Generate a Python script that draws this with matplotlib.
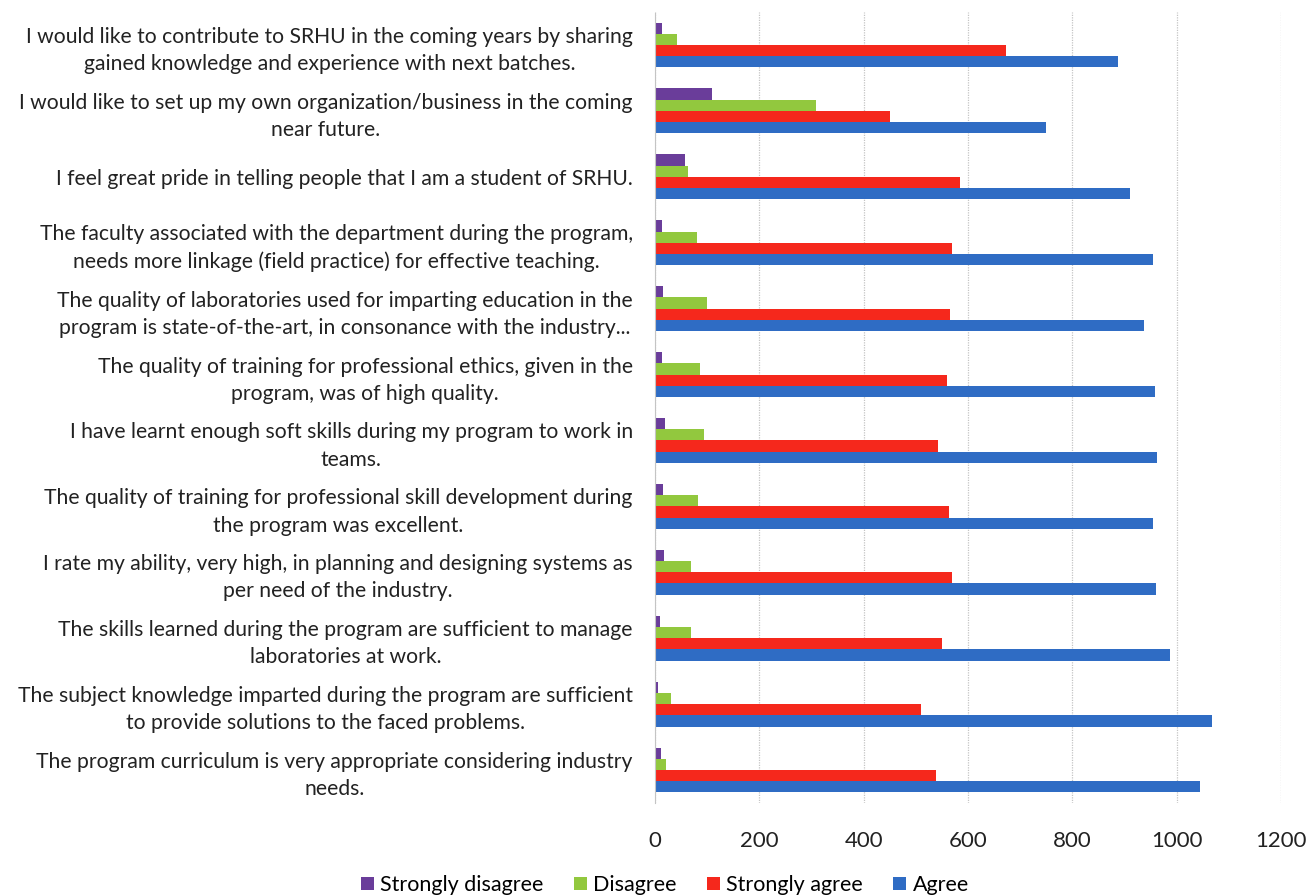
import numpy as np
import matplotlib.pyplot as plt

# statements, bottom to top (as the chart draws them)
statements = [
    "The program curriculum is very appropriate considering industry\nneeds.",
    "The subject knowledge imparted during the program are sufficient\nto provide solutions to the faced problems.",
    "The skills learned during the program are sufficient to manage\nlaboratories at work.",
    "I rate my ability, very high, in planning and designing systems as\nper need of the industry.",
    "The quality of training for professional skill development during\nthe program was excellent.",
    "I have learnt enough soft skills during my program to work in\nteams.",
    "The quality of training for professional ethics, given in the\nprogram, was of high quality.",
    "The quality of laboratories used for imparting education in the\nprogram is state-of-the-art, in consonance with the industry...",
    "The faculty associated with the department during the program,\nneeds more linkage (field practice) for effective teaching.",
    "I feel great pride in telling people that I am a student of SRHU.",
    "I would like to set up my own organization/business in the coming\nnear future.",
    "I would like to contribute to SRHU in the coming years by sharing\ngained knowledge and experience with next batches.",
]

strongly_disagree = [12, 6, 9, 17, 16, 19, 14, 16, 14, 57, 110, 14]
disagree = [22, 31, 69, 69, 82, 93, 86, 99, 80, 64, 308, 43]
strongly_agree = [538, 510, 551, 569, 564, 543, 560, 565, 569, 584, 450, 673]
agree = [1044, 1067, 987, 960, 954, 962, 958, 937, 954, 910, 750, 888]

series = [
    ("Strongly disagree", strongly_disagree, "#6a3d9a"),
    ("Disagree", disagree, "#92c83e"),
    ("Strongly agree", strongly_agree, "#f5281c"),
    ("Agree", agree, "#2f6cc4"),
]

plt.rcParams['font.family'] = ['Lato', 'DejaVu Sans']

fig = plt.figure(figsize=(13.09, 8.96), dpi=100)
ax = fig.add_axes([0.5004, 0.1038, 0.4782, 0.8828])

y = np.arange(len(statements))
h = 0.17
offsets = [1.5 * h, 0.5 * h, -0.5 * h, -1.5 * h]
for (name, vals, col), off in zip(series, offsets):
    ax.barh(y + off, vals, height=h, color=col, label=name)

ax.set_xlim(0, 1200)
ax.set_ylim(-0.5, 11.5)
ax.set_xticks(range(0, 1201, 200))
ax.set_yticks(y)
ax.set_yticklabels(statements, multialignment='center', linespacing=1.45)
ax.tick_params(axis='y', length=0, pad=16, labelsize=15.2, colors='#222222')
ax.tick_params(axis='x', length=0, pad=20, labelsize=16, colors='#222222')
ax.grid(axis='x', color='#c4c4c4', linewidth=0.9, linestyle=(0, (1, 1)))
ax.set_axisbelow(True)
for s in ['top', 'right', 'bottom']:
    ax.spines[s].set_visible(False)
ax.spines['left'].set_color('#c4c4c4')
ax.spines['left'].set_linestyle((0, (1, 1)))

fig.legend(loc='center', bbox_to_anchor=(0.508, 0.012), ncol=4, frameon=False,
           fontsize=15.5, handlelength=0.6, handleheight=0.6, columnspacing=1.4,
           handletextpad=0.3)

fig.savefig('out.png', dpi=100)
